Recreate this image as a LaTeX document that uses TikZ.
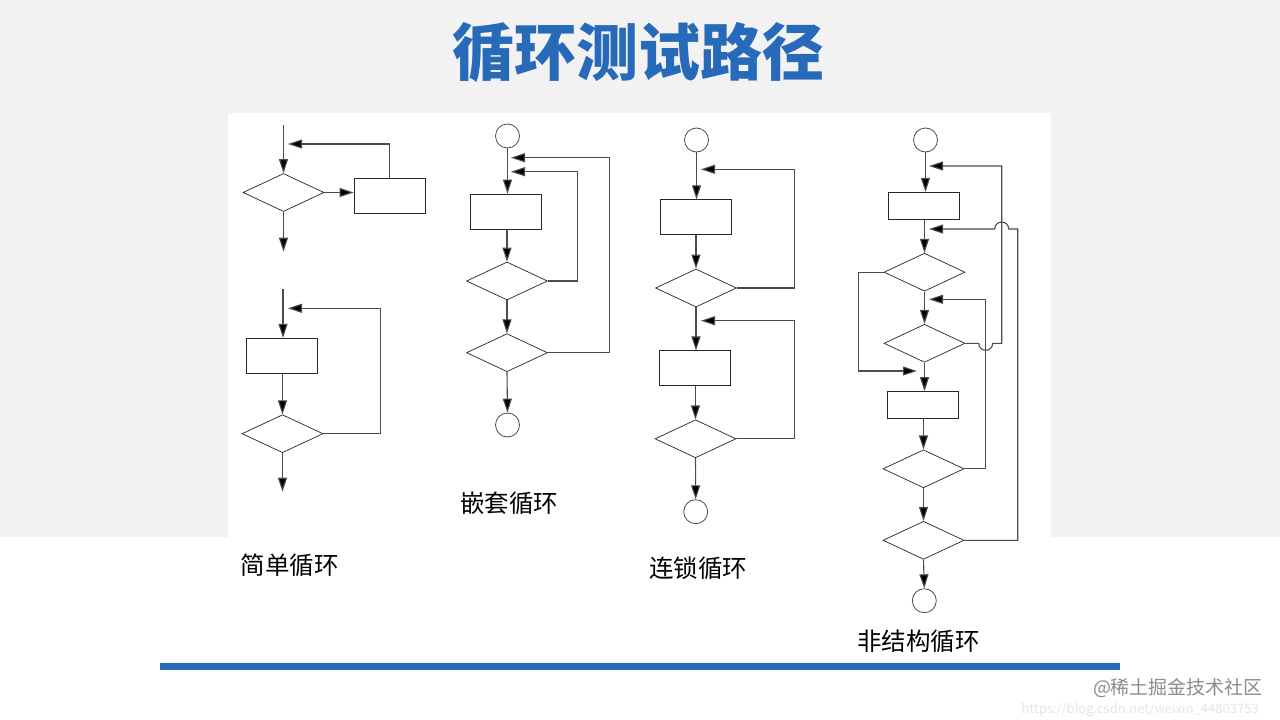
\documentclass[tikz,border=0pt]{standalone}
\usepackage{fontspec}
\setmainfont{Noto Sans CJK SC}
\newfontfamily\cjk{Noto Sans CJK SC}
\usetikzlibrary{shapes.geometric, arrows.meta}
\definecolor{ttlblue}{RGB}{40,106,186}
\definecolor{bggray}{RGB}{242,242,242}
\tikzset{blk/.style = {draw=black!85, rectangle, line width=0.8pt, minimum width=71pt, minimum height=35pt, inner sep=0},
  dec/.style = {draw=black!85, diamond, line width=0.7pt, minimum width=81pt, minimum height=38pt, inner sep=0},
  term/.style = {draw=black!70, circle, line width=0.8pt, minimum size=24pt, inner sep=0},
  ln/.style = {draw=black!70, line width=1.1pt},
  arr/.style = {ln, -{Triangle[length=14pt, width=9pt, fill=black]}},
  lbl/.style = {font=\cjk\fontsize{24.5pt}{26pt}\selectfont, inner sep=0}}

\begin{document}
\begin{tikzpicture}[x=1pt, y=-1pt]
    \useasboundingbox (0, 0) rectangle (1280, 720);
    \fill [white] (0, 0) rectangle (1280, 720);
    \fill [bggray] (0, 0) rectangle (1280, 537);
    \fill [white] (228, 113) rectangle (1051, 537);

    \node [font=\cjk\bfseries\fontsize{62pt}{64pt}\selectfont, text=ttlblue, inner sep=0] (ttl) at (638.5, 52.5) {循环测试路径};
    \fill [ttlblue] (160, 663) rectangle (1120, 670);

    % simple loop
    \coordinate (s1in) at (283.5, 125);
    \node [dec] (s1d) at (283.5, 192.5) {};
    \node [blk] (s1b) at (389.5, 195.8) {};
    \coordinate (s1r) at (288, 144);
    \coordinate (s1out) at (283.5, 251.7);
    \draw [arr] (s1in) -- (s1d.north);
    \draw [arr] (s1d.east) -- (s1d.east -| s1b.west);
    \draw [arr] (s1b.north) |- (s1r);
    \draw [arr] (s1d.south) -- (s1out);

    \coordinate (s2in) at (283, 289);
    \node [blk] (s2b) at (282, 355.7) {};
    \node [dec] (s2d) at (282.5, 433.7) {};
    \coordinate (s2r) at (288, 308.3);
    \coordinate (s2out) at (282.5, 491.7);
    \draw [arr] (s2in) -- (s2in |- s2b.north);
    \draw [arr] (s2b.south -| s2d.north) -- (s2d.north);
    \draw [arr] (s2d.east) -| (380.7, 308.3) -- (s2r);
    \draw [arr] (s2d.south) -- (s2out);
    \node [lbl] (s2lbl) at (289.5, 565) {简单循环};

    % nested loop
    \node [term] (n0) at (507.5, 136) {};
    \node [blk] (nb) at (506, 211.5) {};
    \node [dec] (nd1) at (507, 281) {};
    \node [dec] (nd2) at (507, 352.7) {};
    \node [term] (n9) at (507.5, 425) {};
    \coordinate (ni1) at (511, 171.7);
    \coordinate (ni2) at (511, 157.7);
    \draw [arr] (n0.south) -- (n0.south |- nb.north);
    \draw [arr] (nb.south -| nd1.north) -- (nd1.north);
    \draw [arr] (nd1.south) -- (nd2.north);
    \draw [arr] (nd2.south) -- (n9.north);
    \draw [arr] (nd1.east) -| (577.7, 171.7) -- (ni1);
    \draw [arr] (nd2.east) -| (609.3, 157.7) -- (ni2);
    \node [lbl] (nlbl) at (509, 503) {嵌套循环};

    % interlocking loops
    \node [term] (c0) at (696.5, 140) {};
    \node [blk] (cb1) at (695.5, 217.2) {};
    \node [dec] (cd1) at (696, 288) {};
    \node [blk] (cb2) at (695, 368.3) {};
    \node [dec] (cd2) at (695.5, 438.8) {};
    \node [term] (c9) at (695.7, 511.7) {};
    \coordinate (ci1) at (701, 169.3);
    \coordinate (ci2) at (701, 320.7);
    \draw [arr] (c0.south) -- (c0.south |- cb1.north);
    \draw [arr] (cb1.south -| cd1.north) -- (cd1.north);
    \draw [arr] (cd1.south) -- (cd1.south |- cb2.north);
    \draw [arr] (cb2.south -| cd2.north) -- (cd2.north);
    \draw [arr] (cd2.south) -- (c9.north);
    \draw [arr] (cd1.east) -| (794.3, 169.3) -- (ci1);
    \draw [arr] (cd2.east) -| (794.3, 320.7) -- (ci2);
    \node [lbl] (clbl) at (698, 568) {连锁循环};

    % unstructured loops
    \node [term] (u0) at (925.5, 140) {};
    \node [blk, minimum height=27pt] (ub1) at (924, 205.8) {};
    \node [dec] (ud1) at (924.5, 272.2) {};
    \node [dec] (ud2) at (924.5, 343.3) {};
    \node [blk, minimum height=27pt] (ub2) at (923, 405) {};
    \node [dec] (ud3) at (923.5, 468.8) {};
    \node [dec] (ud4) at (923.5, 540.3) {};
    \node [term] (u9) at (924.3, 600.7) {};
    \coordinate (uA) at (929, 166);
    \coordinate (uB) at (929, 229);
    \coordinate (uC) at (929, 299.3);
    \coordinate (uL) at (917, 371);
    \draw [arr] (u0.south) -- (u0.south |- ub1.north);
    \draw [arr] (ub1.south -| ud1.north) -- (ud1.north);
    \draw [arr] (ud1.south) -- (ud2.north);
    \draw [arr] (ud2.south) -- (ud2.south |- ub2.north);
    \draw [arr] (ub2.south -| ud3.north) -- (ud3.north);
    \draw [arr] (ud3.south) -- (ud4.north);
    \draw [arr] (ud4.south) -- (u9.north);
    \draw [arr] (ud1.west) -| (858.3, 371) -- (uL);
    \draw [arr] (ud3.east) -| (985.7, 299.3) -- (uC);
    \draw [arr] (ud2.east) -- (978.7, 343.3) arc[start angle=180, end angle=0, radius=7] -- (1001.7, 343.3) -- (1001.7, 166) -- (uA);
    \draw [arr] (ud4.east) -| (1017.7, 229) -- (1008.7, 229) arc[start angle=0, end angle=-180, radius=7] -- (uB);
    \node [lbl] (ulbl) at (918.5, 641.7) {非结构循环};

    \node [font=\cjk\fontsize{13pt}{14pt}\selectfont, text=black!10, inner sep=0] (url) at (1140, 710) {https://blog.csdn.net/weixin\_44803753};
    \node [font=\cjk\fontsize{19pt}{20pt}\selectfont, text=black!45, inner sep=0] (wm) at (1178, 688) {@稀土掘金技术社区};
\end{tikzpicture}
\end{document}
